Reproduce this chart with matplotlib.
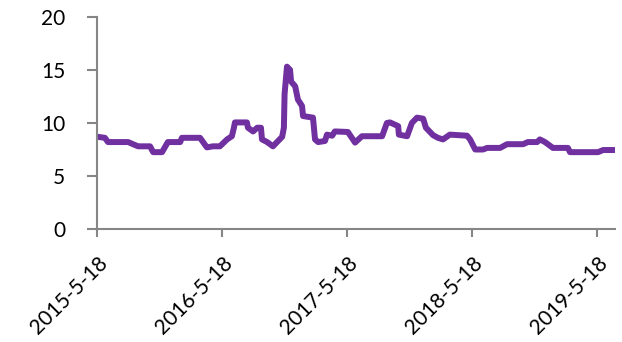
import pandas as pd
import matplotlib.pyplot as plt

plt.rcParams['font.family'] = ['Lato', 'DejaVu Sans']
plt.rcParams['font.size'] = 15

# step points
dates = ['2015-05-18', '2015-06-10', '2015-06-19', '2015-08-17', '2015-08-31',
         '2015-09-15', '2015-10-20', '2015-10-29', '2015-11-24', '2015-12-11',
         '2016-01-16', '2016-01-21', '2016-03-14', '2016-04-03', '2016-04-21',
         '2016-05-11', '2016-06-01', '2016-06-15', '2016-06-21', '2016-06-24',
         '2016-07-29', '2016-08-01', '2016-08-16', '2016-08-28', '2016-09-08',
         '2016-09-11', '2016-09-26', '2016-10-13', '2016-10-28', '2016-11-09',
         '2016-11-14', '2016-11-16', '2016-11-23', '2016-12-02', '2016-12-05',
         '2016-12-17', '2016-12-25', '2017-01-06', '2017-01-09', '2017-02-07',
         '2017-02-13', '2017-02-22', '2017-03-14', '2017-03-20', '2017-04-04',
         '2017-04-12', '2017-05-20', '2017-06-10', '2017-06-30', '2017-08-28',
         '2017-09-11', '2017-09-20', '2017-10-14', '2017-10-16', '2017-11-09',
         '2017-11-23', '2017-12-08', '2017-12-26', '2018-01-03', '2018-01-24',
         '2018-02-07', '2018-02-22', '2018-03-14', '2018-05-03', '2018-05-12',
         '2018-05-27', '2018-06-19', '2018-07-01', '2018-08-08', '2018-08-28',
         '2018-10-14', '2018-10-28', '2018-11-24', '2018-12-02', '2018-12-17',
         '2019-01-09', '2019-02-22', '2019-02-28', '2019-05-21', '2019-06-05',
         '2019-07-10']
values = [8.7, 8.6, 8.2, 8.2, 8.0,
          7.8, 7.8, 7.25, 7.25, 8.2,
          8.2, 8.6, 8.6, 7.7, 7.8,
          7.8, 8.45, 8.75, 9.55, 10.05,
          10.05, 9.55, 9.2, 9.55, 9.55,
          8.45, 8.2, 7.8, 8.3, 8.7,
          9.55, 12.7, 15.3, 15.0, 13.9,
          13.45, 12.2, 11.6, 10.65, 10.5,
          8.45, 8.2, 8.3, 8.9, 8.8,
          9.2, 9.15, 8.15, 8.75, 8.75,
          10.0, 10.05, 9.7, 8.9, 8.75,
          10.0, 10.5, 10.4, 9.55, 8.85,
          8.6, 8.45, 8.9, 8.8, 8.45,
          7.5, 7.5, 7.65, 7.65, 8.0,
          8.0, 8.2, 8.2, 8.45, 8.2,
          7.65, 7.65, 7.25, 7.25, 7.45,
          7.45]
tick_dates = ['2015-05-18', '2016-05-18', '2017-05-18', '2018-05-18', '2019-05-18']
tick_labels = ['2015-5-18', '2016-5-18', '2017-5-18', '2018-5-18', '2019-5-18']
y_ticks = [0, 5, 10, 15, 20]

x = pd.to_datetime(dates)

fig = plt.figure(figsize=(6.22, 3.42), dpi=100)
ax = fig.add_axes([0.156, 0.330, 0.833, 0.621])

ax.plot(x, values, color='#7030A0', lw=4.3, solid_joinstyle='round', solid_capstyle='round')

ax.set_xlim(pd.Timestamp('2015-05-18'), pd.Timestamp('2019-07-10'))
ax.set_ylim(0, 20)
ax.set_yticks(y_ticks)
ax.set_xticks(pd.to_datetime(tick_dates))
ax.set_xticklabels(tick_labels, rotation=45, ha='right', rotation_mode='anchor')

for s in ['top', 'right']:
    ax.spines[s].set_visible(False)
for s in ['left', 'bottom']:
    ax.spines[s].set_color('#868686')
    ax.spines[s].set_linewidth(1.5)
ax.spines['bottom'].set_zorder(0)
ax.tick_params(axis='y', length=7, width=1.5, color='#868686', pad=16)
ax.tick_params(axis='x', length=6, width=1.5, color='#868686', pad=11)

plt.savefig('out.png', dpi=100)
